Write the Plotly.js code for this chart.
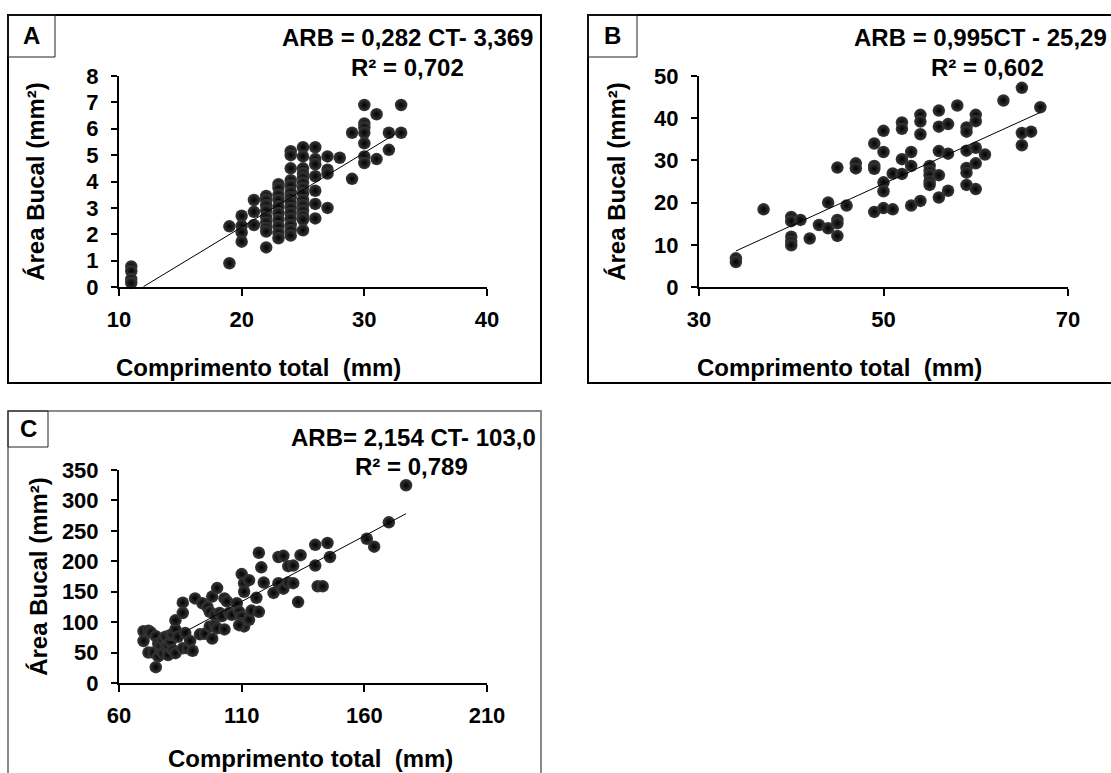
<!DOCTYPE html>
<html><head><meta charset="utf-8">
<script src="https://cdn.plot.ly/plotly-3.0.1.min.js"></script>
<style>html,body{margin:0;padding:0;background:#fff;} #chart{width:1111px;height:773px;}</style>
</head><body><div id="chart"></div>
<script>
// ---------- Panel A ----------
const lengthA = [11,11,11,11, 19,19, 20,20,20,20, 21,21,21,
  22,22,22,22,22,22,22,22,22,
  23,23,23,23,23,23,23,23,23,23,
  24,24,24,24,24,24,24,24,24,24,24,24,24,24,
  25,25,25,25,25,25,25,25,25,25,25,25,25,25,
  26,26,26,26,26,26,26, 27,27,27,27, 28, 29,29,
  30,30,30,30,30,30,30, 31,31, 32,32, 33,33];
const areaA = [0.78,0.6,0.3,0.15, 2.3,0.9, 2.7,2.32,2.07,1.72, 3.3,2.85,2.35,
  3.45,3.3,3.1,2.9,2.65,2.45,2.25,2.1,1.5,
  3.9,3.75,3.5,3.3,3.05,2.8,2.55,2.3,2.05,1.85,
  5.15,5.0,4.5,4.05,3.85,3.6,3.4,3.2,3.0,2.8,2.6,2.35,2.15,1.95,
  5.3,4.95,4.5,4.3,4.15,3.95,3.75,3.55,3.3,3.1,2.9,2.7,2.55,2.15,
  5.3,4.85,4.65,4.2,3.65,3.15,2.6, 4.95,4.45,4.3,3.0, 4.9, 5.85,4.1,
  6.9,6.2,6.05,5.85,5.45,4.95,4.7, 6.55,4.85, 5.85,5.2, 6.9,5.85];
const fitA = [0.282, -3.369];
const fitRangeA = [12, 32.5];
const xTicksA = [10, 20, 30, 40];
const yTicksA = [0, 1, 2, 3, 4, 5, 6, 7, 8];

// ---------- Panel B ----------
const lengthB = [34,34, 37, 40,40,40,40,40, 41, 42, 43, 44,44, 45,45,45,45, 46, 47,47,
  49,49,49,49, 50,50,50,50,50, 51,51, 52,52,52,52, 53,53,53, 54,54,54,54,
  55,55,55,55,55, 56,56,56,56,56, 57,57,57, 58, 59,59,59,59,59,59,
  60,60,60,60,60, 61, 63, 65,65,65, 66, 67];
const areaB = [6.8,5.9, 18.4, 16.6,15.6,11.9,10.8,9.9, 15.9, 11.5, 14.7, 20.0,13.9, 28.3,15.9,15.1,12.1, 19.3, 29.3,28.1,
  34.0,28.7,28.0,17.8, 37.0,32.0,24.8,22.7,18.7, 26.9,18.4, 39.0,37.5,30.3,26.8, 32.0,28.7,19.3, 40.8,39.2,36.2,20.4,
  28.7,27.5,26.5,25.0,24.2, 41.8,38.0,32.2,26.5,21.2, 38.6,31.6,22.8, 43.0, 37.8,36.8,32.3,28.2,27.1,24.2,
  40.8,39.3,33.0,29.3,23.2, 31.4, 44.2, 47.2,36.5,33.6, 36.8, 42.6];
const fitB = [0.995, -25.29];
const fitRangeB = [34, 67];
const xTicksB = [30, 50, 70];
const yTicksB = [0, 10, 20, 30, 40, 50];

// ---------- Panel C ----------
const lengthC = [70,70,72,72,73,74,75,75,76,76,77,77,78,78,79,79,80,80,81,81,82,82,83,83,83,84,
  86,86,86,87,88,89,90,91,93,94,95,96,97,97,98,98,99,99,100,100,101,102,103,103,104,105,106,
  108,109,110,110,111,109,110,111,111,113,113,114,116,117,117,118,119,123,125,125,127,127,
  129,131,129,131,133,134,140,140,141,143,145,146,161,164,170,177];
const areaC = [85,69,86,50,83,50,77,26,65,44,54,62,71,49,60,76,62,46,68,79,54,80,88,49,103,76,
  132,115,57,82,57,69,53,139,80,131,81,125,117,93,142,73,95,112,156,90,115,110,139,88,134,115,112,
  131,117,109,98,93,95,179,164,150,169,104,119,140,117,214,190,165,148,164,207,209,155,
  192,193,165,164,133,210,227,193,159,159,230,207,237,224,264,325];
const fitC = [2.154, -103.0];
const fitRangeC = [87, 177];
const xTicksC = [60, 110, 160, 210];
const yTicksC = [0, 50, 100, 150, 200, 250, 300, 350];

// ---------- Texts ----------
const panelLetters = ['A', 'B', 'C'];
const equations = ['ARB = 0,282 CT- 3,369', 'ARB = 0,995CT - 25,29', 'ARB= 2,154 CT- 103,0'];
const r2Texts = ['R² = 0,702', 'R² = 0,602', 'R² = 0,789'];
const xTitle = 'Comprimento total\u00a0 (mm)';
const yTitle = 'Área Bucal (mm²)';

// ---------- Drawing ----------
const W = 1111, H = 773;
const px = v => v / W;
const py = v => 1 - v / H;
const FAM = 'Liberation Sans, Arial, sans-serif';

function pointsTrace(x, y, xa, ya) {
  return {x, y, xaxis: xa, yaxis: ya, type: 'scatter', mode: 'markers', cliponaxis: false,
    marker: {size: 12.5, color: '#3a3a3a', gradient: {type: 'radial', color: '#000'}, line: {width: 0}},
    hoverinfo: 'x+y'};
}
function fitTrace(fit, range, xa, ya) {
  return {x: range, y: range.map(v => fit[0] * v + fit[1]), xaxis: xa, yaxis: ya, type: 'scatter',
    mode: 'lines', line: {color: '#000', width: 1}, hoverinfo: 'skip'};
}
const data = [
  pointsTrace(lengthA, areaA, 'x', 'y'), fitTrace(fitA, fitRangeA, 'x', 'y'),
  pointsTrace(lengthB, areaB, 'x2', 'y2'), fitTrace(fitB, fitRangeB, 'x2', 'y2'),
  pointsTrace(lengthC, areaC, 'x3', 'y3'), fitTrace(fitC, fitRangeC, 'x3', 'y3')
];

const tickFont = {family: FAM, size: 22, color: '#000', weight: 'bold'};
function xAxis(domain, range, ticks, anchor) {
  return {domain, range, tickvals: ticks, anchor, showline: true, linecolor: '#000', linewidth: 2,
    ticks: 'outside', ticklen: 7, tickwidth: 2, tickcolor: '#000', showgrid: false, zeroline: false,
    tickfont: tickFont, ticklabelstandoff: 5, fixedrange: true};
}
function yAxis(domain, range, ticks, anchor, standoff) {
  return {domain, range, tickvals: ticks, anchor, showline: true, linecolor: '#000', linewidth: 2,
    ticks: 'outside', ticklen: 6, tickwidth: 2, tickcolor: '#000', showgrid: false, zeroline: false,
    tickfont: tickFont, ticklabelstandoff: 8, fixedrange: true,
    title: {text: yTitle, font: {family: FAM, size: 24, color: '#000', weight: 'bold'}, standoff}};
}

const annFont = s => ({family: FAM, size: s, color: '#000', weight: 'bold'});
function ann(text, x, y, xanchor, size) {
  return {text, x: px(x), y: py(y), xref: 'paper', yref: 'paper', xanchor, yanchor: 'middle',
    showarrow: false, font: annFont(size)};
}
const annotations = [
  ann(panelLetters[0], 31, 36, 'center', 24), ann(panelLetters[1], 612, 36, 'center', 24), ann(panelLetters[2], 28, 429, 'center', 24),
  ann(equations[0], 280, 38, 'left', 24), ann(equations[1], 852, 38, 'left', 24), ann(equations[2], 289, 437, 'left', 24),
  ann(r2Texts[0], 407, 67, 'center', 24), ann(r2Texts[1], 987, 67, 'center', 24), ann(r2Texts[2], 411, 466, 'center', 24),
  ann(xTitle, 114, 367, 'left', 24), ann(xTitle, 695, 367, 'left', 24), ann(xTitle, 166, 758, 'left', 24)
];

function rect(x0, y0, x1, y1, color, width) {
  return {type: 'rect', xref: 'paper', yref: 'paper', x0: px(x0), x1: px(x1), y0: py(y1), y1: py(y0),
    line: {color, width}, fillcolor: 'rgba(0,0,0,0)', layer: 'above'};
}
const shapes = [
  rect(8, 15, 541, 383, '#000', 2), rect(8, 15, 55, 57, '#222', 1),
  rect(588, 15, 1121, 383, '#000', 2), rect(588, 15, 637, 57, '#222', 1),
  rect(8, 411, 541, 790, '#8a8a8a', 2), rect(8, 411, 48, 447, '#222', 1)
];

const layout = {
  width: W, height: H, margin: {l: 0, r: 0, t: 0, b: 0}, showlegend: false,
  paper_bgcolor: '#fff', plot_bgcolor: '#fff',
  xaxis: xAxis([px(119), px(487)], [10, 40], xTicksA, 'y'),
  yaxis: yAxis([py(287), py(76)], [0, 8], yTicksA, 'x', 35),
  xaxis2: xAxis([px(699), px(1068)], [30, 70], xTicksB, 'y2'),
  yaxis2: yAxis([py(287), py(76)], [0, 50], yTicksB, 'x2', 22),
  xaxis3: xAxis([px(119), px(487)], [60, 210], xTicksC, 'y3'),
  yaxis3: yAxis([py(683), py(470)], [0, 350], yTicksC, 'x3', 7),
  annotations, shapes
};
Plotly.newPlot('chart', data, layout, {displayModeBar: false, staticPlot: true});
</script></body></html>
